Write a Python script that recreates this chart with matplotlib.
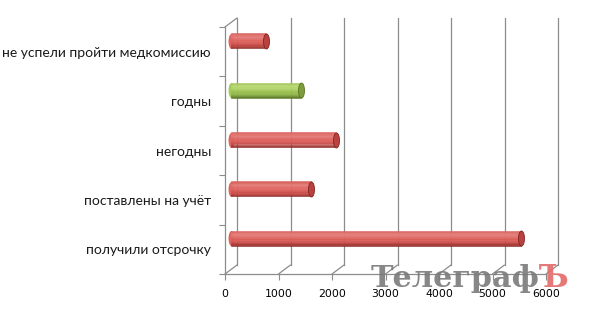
#! /usr/bin/env python3
"""
Pseudo-3D horizontal cylinder bar chart (Excel style), redrawn with matplotlib
"""
import matplotlib
matplotlib.use("Agg")
import matplotlib.pyplot as plt
import matplotlib.transforms as mtrans
from matplotlib.path import Path
import numpy as np

# ----------------------------------------------------------------------------
# data (bottom -> top)
categories = ["получили отсрочку", "поставлены на учёт", "негодны",
              "годны", "не успели пройти медкомиссию"]
values = [5420, 1500, 1960, 1310, 650]
bar_kind = ["red", "red", "red", "green", "red"]
x_ticks = [0, 1000, 2000, 3000, 4000, 5000, 6000]
x_max = 6000

# cylinder shading, bottom -> top
shades = {
    "red": ["#8e2e2c", "#a83a37", "#bf4744", "#cd504c", "#d55752", "#da5d58",
            "#dd6460", "#e06b67", "#e27470", "#e47c78", "#e2756f", "#d86560"],
    "green": ["#63802d", "#76963a", "#86a943", "#91b64a", "#98bd4f", "#9fc355",
              "#a6c95c", "#add064", "#b4d66d", "#b9da74", "#b2d46b", "#a5c75d"],
}
cap_face = {"red": "#b9423f", "green": "#7f9d3c"}
cap_edge = {"red": "#7d2523", "green": "#5a7526"}

GRID = "#8c8c8c"
DPI = 100

fig = plt.figure(figsize=(5.9, 3.12), dpi=DPI)
# front plane of the 3d box, placed in pixels
ax = fig.add_axes([225 / 590, 38 / 312, 321 / 590, 247 / 312])
ax.set_xlim(0, x_max)
ax.set_ylim(0, len(categories))
ax.patch.set_alpha(0)

back = mtrans.offset_copy(ax.transData, fig=fig, x=12, y=9, units="dots")
bars_tr = mtrans.offset_copy(ax.transData, fig=fig, x=6, y=11, units="dots")

# back wall gridlines + floor diagonals
for v in x_ticks:
    ax.plot([v, v], [0, len(categories)], color=GRID, lw=0.9,
            transform=back, clip_on=False, zorder=1)
    ax.annotate("", xy=(v, 0), xytext=(12, 9), textcoords="offset pixels",
                arrowprops=dict(arrowstyle="-", color=GRID, lw=0.9,
                                shrinkA=0, shrinkB=0), zorder=1)
# top of left wall
ax.annotate("", xy=(0, len(categories)), xytext=(12, 9),
            textcoords="offset pixels",
            arrowprops=dict(arrowstyle="-", color=GRID, lw=0.9,
                            shrinkA=0, shrinkB=0), zorder=1)

# cylinders
ellipse = Path.unit_circle()
ellipse = Path(ellipse.vertices * np.array([0.4, 1.0]), ellipse.codes)
bar_px = 15
bar_h = bar_px / 49.4
y_pos = np.arange(len(categories)) + 0.5
for y, val, kind in zip(y_pos, values, bar_kind):
    cols = shades[kind]
    n = len(cols)
    # rounded left end
    ax.scatter([0], [y], marker=ellipse, s=(bar_px * 0.72) ** 2, color=cols[6],
               transform=bars_tr, zorder=2, linewidths=0, clip_on=False)
    for j, c in enumerate(cols):
        ax.barh(y - bar_h / 2 + (j + 0.5) * bar_h / n, val, height=bar_h / n,
                left=0, color=c, edgecolor=c, linewidth=0.4,
                transform=bars_tr, zorder=3)
    ax.scatter([val], [y], marker=ellipse, s=(bar_px * 0.72) ** 2,
               color=cap_face[kind], edgecolors=cap_edge[kind], linewidths=0.6,
               transform=bars_tr, zorder=4, clip_on=False)

# axes look
for side in ("top", "right"):
    ax.spines[side].set_visible(False)
for side in ("left", "bottom"):
    ax.spines[side].set_color(GRID)
    ax.spines[side].set_linewidth(0.9)

ax.set_xticks(x_ticks)
ax.set_xticklabels([str(t) for t in x_ticks], fontsize=7.8,
                   family="DejaVu Sans")
ax.set_yticks(np.arange(len(categories) + 1))
ax.set_yticklabels([])
ax.set_yticks(y_pos, minor=True)
ax.set_yticklabels(categories, minor=True, fontsize=10, family="Lato",
                   color="#1a1a1a")
ax.tick_params(axis="x", direction="out", length=4, color=GRID, pad=7)
ax.tick_params(axis="y", which="major", direction="out", length=4, color=GRID)
ax.tick_params(axis="y", which="minor", length=0, pad=10)

# watermark
fig.text(371 / 590, 1 - 287 / 312, "Телеграф", fontsize=21.8,
         family="DejaVu Serif", weight="bold", color="#7a7a7a", alpha=0.9,
         ha="left", va="baseline")
fig.text(569 / 590, 1 - 287 / 312, "Ъ", fontsize=22.4,
         family="DejaVu Serif", weight="bold", color="#e46a68", alpha=0.9,
         ha="right", va="baseline")

fig.savefig("out.png", dpi=DPI)
